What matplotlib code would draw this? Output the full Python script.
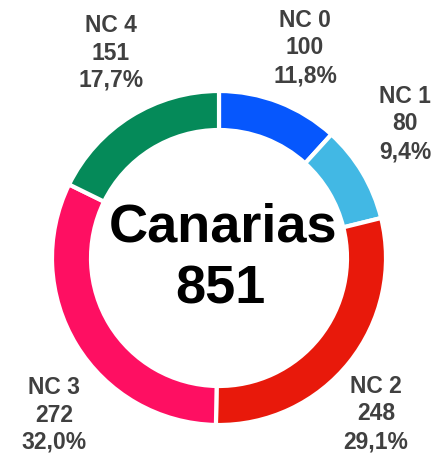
import matplotlib
matplotlib.use("Agg")
import matplotlib.pyplot as plt

categories = ["NC 0", "NC 1", "NC 2", "NC 3", "NC 4"]
values = [100, 80, 248, 272, 151]
percent_labels = ["11,8%", "9,4%", "29,1%", "32,0%", "17,7%"]
colors = ["#0657fd", "#42b8e4", "#e8190b", "#fe0f62", "#058a59"]
title = "Canarias"
total = sum(values)

W, H = 434, 463
fig = plt.figure(figsize=(W / 100, H / 100), dpi=100)
ax = fig.add_axes([0, 0, 1, 1])

cx, cy = 219, H - 258
R = 167
width = 39
ax.pie(values, colors=colors, startangle=90, counterclock=False,
       center=(cx, cy), radius=R, frame=True,
       wedgeprops=dict(width=width, edgecolor="white", linewidth=3))
ax.set_xlim(0, W)
ax.set_ylim(0, H)
ax.axis("off")

font = "Liberation Sans"
label_pos = {
    "NC 0": (305, 27),
    "NC 1": (405, 103),
    "NC 2": (376, 393),
    "NC 3": (54, 394),
    "NC 4": (111, 32),
}
step = 27.5
for cat, v, p in zip(categories, values, percent_labels):
    x, y0 = label_pos[cat]
    for i, line in enumerate([cat, str(v), p]):
        ax.text(x, H - (y0 + i * step), line, ha="center", va="baseline",
                fontsize=16.5, fontweight="bold", color="#404040", family=font)

ax.text(223, H - 242, title, ha="center", va="baseline", fontsize=39,
        fontweight="bold", color="black", family=font)
ax.text(220, H - 304, str(total), ha="center", va="baseline", fontsize=39,
        fontweight="bold", color="black", family=font)

fig.savefig("out.png", dpi=100, facecolor="white")
